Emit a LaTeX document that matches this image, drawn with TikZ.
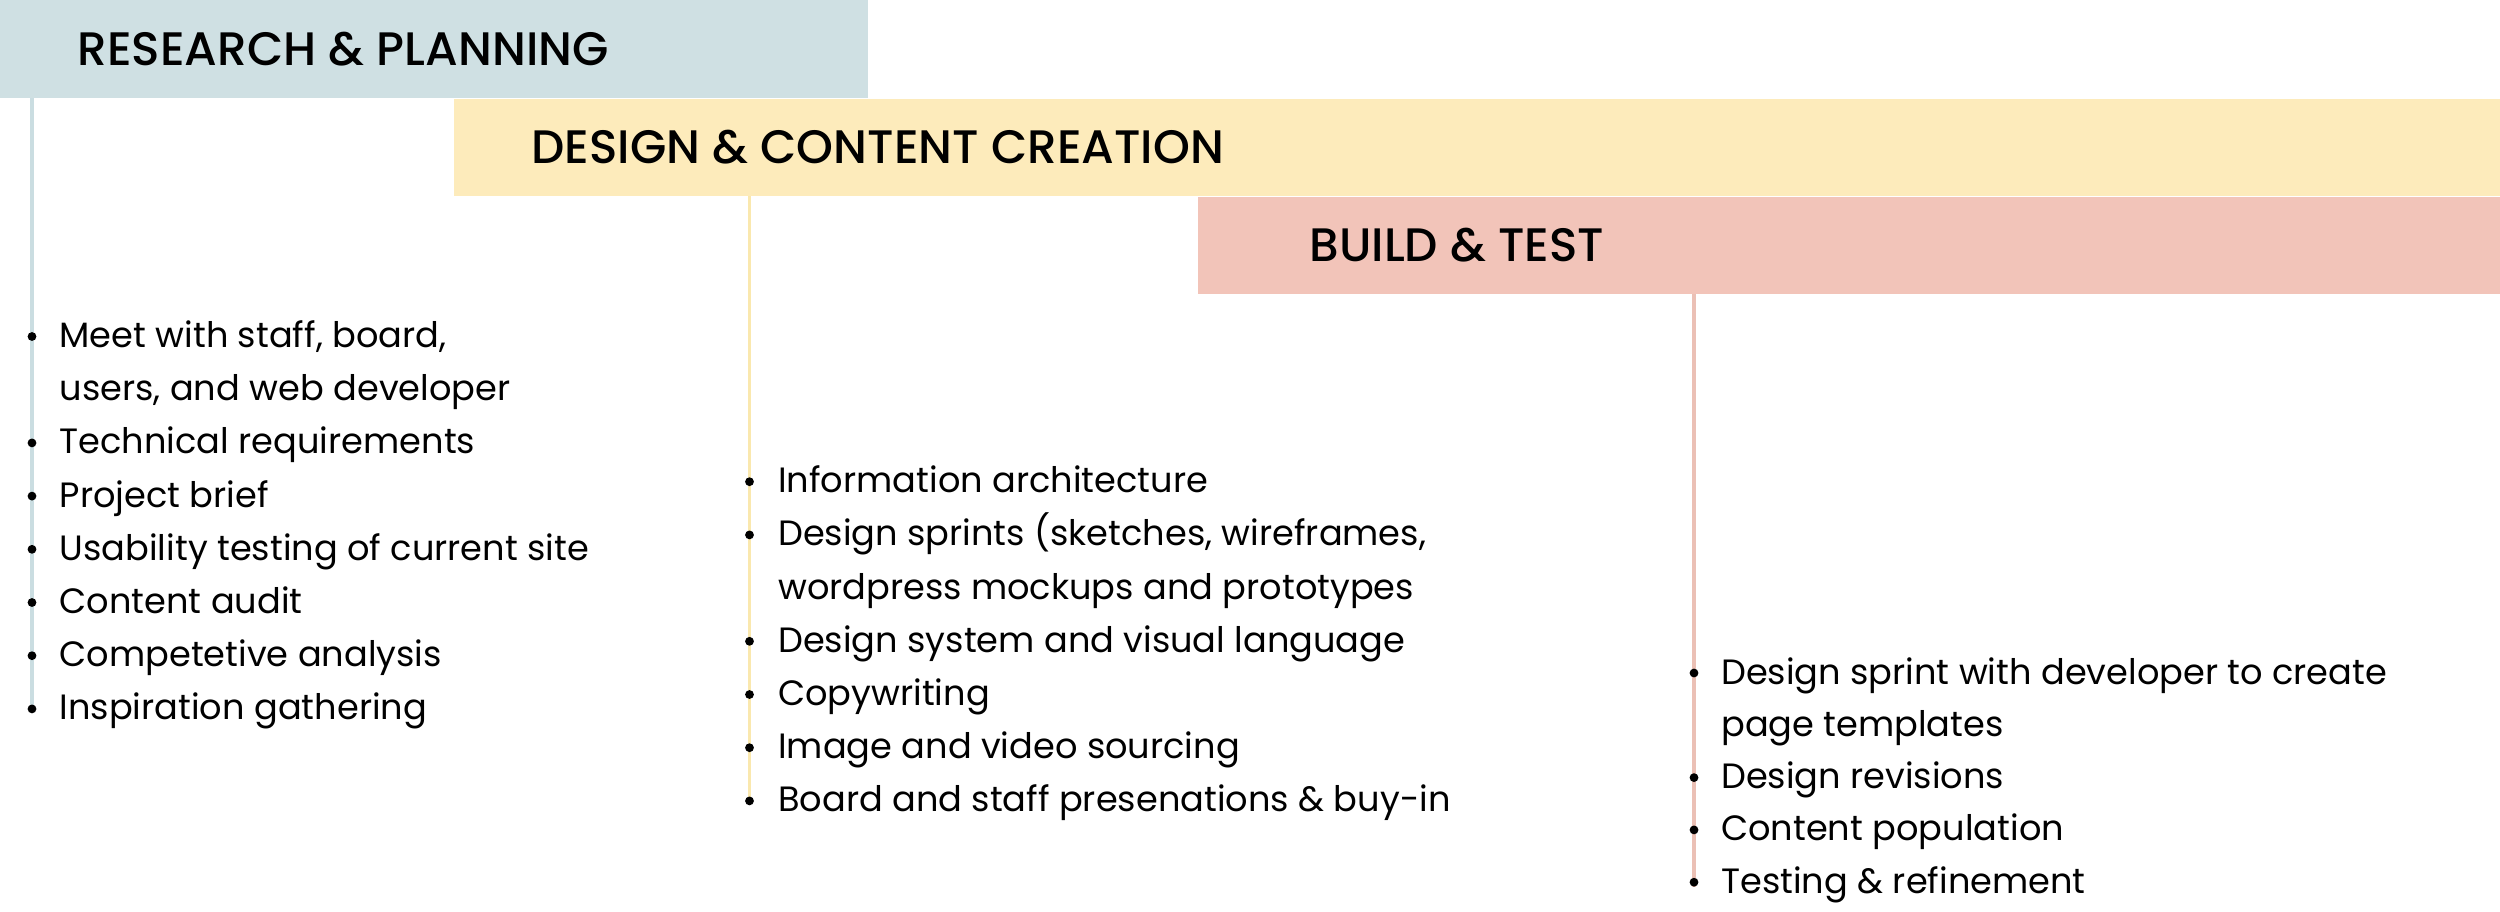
\documentclass[tikz,border=0pt]{standalone}
\usepackage{fontspec}
\setmainfont{Poppins}
\newfontfamily\titlefont{Poppins Medium}
\definecolor{barA}{HTML}{CFE0E3}
\definecolor{barB}{HTML}{FDEBBB}
\definecolor{barC}{HTML}{F2C4B9}
\definecolor{lnA}{HTML}{CADDE1}
\definecolor{lnB}{HTML}{FAE8AE}
\definecolor{lnC}{HTML}{EBC0B5}
\begin{document}
\begin{tikzpicture}[x=0.01cm,y=-0.01cm]
\tikzset{
  bar/.style={draw=none, inner sep=0, outer sep=0, anchor=north west},
  title/.style={font=\titlefont\fontsize{13.35}{16}\selectfont, anchor=base west, inner sep=0, text=black},
  item/.style={font=\fontsize{10.0}{12}\selectfont, anchor=base west, inner sep=0, text=black},
  dot/.style={circle, fill=black, draw=none, inner sep=0, minimum size=0.088cm},
  vline/.style={line width=0.9pt}
}
\fill[white] (0,0) rectangle (2500,911);
\useasboundingbox (0,0) rectangle (2500,911);

% bars
\node[bar, fill=barA, minimum width=8.67cm, minimum height=0.98cm] (b1) at (0,0) {};
\node[bar, fill=barB, minimum width=20.46cm, minimum height=0.975cm] (b2) at (454,98.5) {};
\node[bar, fill=barC, minimum width=13.02cm, minimum height=0.97cm] (b3) at (1198,197) {};

% titles
\node[title] (t1) at (77,65) {RESEARCH \& PLANNING};
\node[title] (t2) at (531,163) {DESIGN \& CONTENT CREATION};
\node[title] (t3) at (1309,261.5) {BUILD \& TEST};

% vertical lines
\coordinate (e1) at (32,712);
\coordinate (e2) at (749.5,805);
\coordinate (e3) at (1694,887);
\draw[vline, lnA] (b1.south -| e1) -- (e1);
\draw[vline, lnB] (b2.south -| e2) -- (e2);
\draw[vline, lnC] (b3.south -| e3) -- (e3);

% list 1
\node[item] (a1) at (59,347.5) {Meet with staff, board,};
\node[item] (a2) at (59,400.7) {users, and web developer};
\node[item] (a3) at (59,453.9) {Technical requirements};
\node[item] (a4) at (59,507.1) {Project brief};
\node[item] (a5) at (59,560.3) {Usability testing of current site};
\node[item] (a6) at (59,613.5) {Content audit};
\node[item] (a7) at (59,666.7) {Competetive analysis};
\node[item] (a8) at (59,719.9) {Inspiration gathering};
\foreach \n in {a1,a3,a4,a5,a6,a7,a8}
  \node[dot] (d\n) at ([yshift=0.11cm]\n.base -| e1) {};

% list 2
\node[item] (c1) at (777.5,492.7) {Information architecture};
\node[item] (c2) at (777.5,545.9) {Design sprints (sketches, wireframes,};
\node[item] (c3) at (777.5,599.1) {wordpress mockups and prototypes};
\node[item] (c4) at (777.5,652.3) {Design system and visual language};
\node[item] (c5) at (777.5,705.5) {Copywriting};
\node[item] (c6) at (777.5,758.7) {Image and video sourcing};
\node[item] (c7) at (777.5,811.9) {Board and staff presenations \& buy-in};
\foreach \n in {c1,c2,c4,c5,c6,c7}
  \node[dot] (d\n) at ([yshift=0.11cm]\n.base -| e2) {};

% list 3
\node[item] (g1) at (1720.5,684) {Design sprint with developer to create};
\node[item] (g2) at (1720.5,736.3) {page templates};
\node[item] (g3) at (1720.5,788.6) {Design revisions};
\node[item] (g4) at (1720.5,840.9) {Content population};
\node[item] (g5) at (1720.5,893.2) {Testing \& refinement};
\foreach \n in {g1,g3,g4,g5}
  \node[dot] (d\n) at ([yshift=0.11cm]\n.base -| e3) {};
\end{tikzpicture}
\end{document}
